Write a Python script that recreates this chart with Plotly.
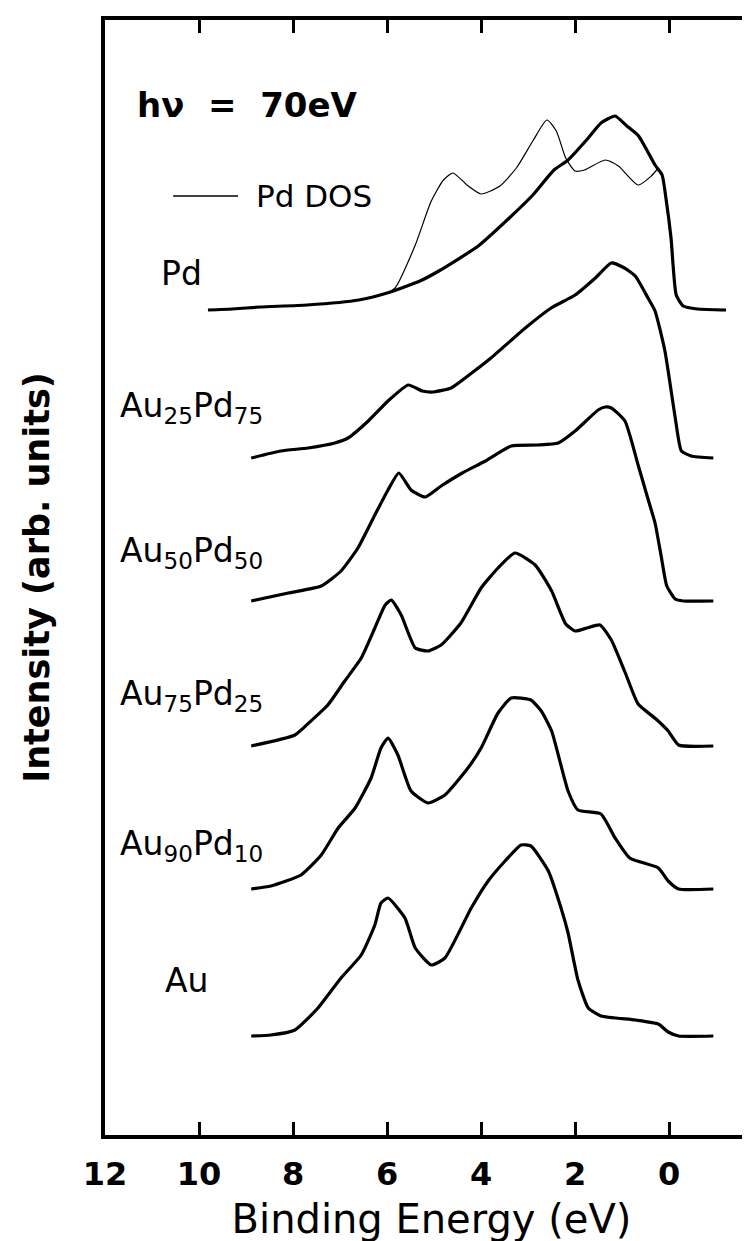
import plotly.graph_objects as go

# ---------------- data (binding energy in eV, intensity in arb. units above each curve's baseline) -------------
pd_energy = [9.81, 9.3, 8.7, 7.7, 6.6, 6.0, 5.3, 4.9, 4.06, 3.4, 2.9, 2.45, 2.15, 1.72, 1.45, 1.15,
             0.9, 0.65, 0.3, 0.15, 0.06, -0.04, -0.15, -0.3, -0.6, -1.21]
pd_intensity = [0.0, 0.01, 0.03, 0.05, 0.10, 0.17, 0.29, 0.39, 0.64, 0.92, 1.15, 1.40, 1.50, 1.72, 1.87, 1.94,
                1.84, 1.74, 1.45, 1.35, 1.09, 0.72, 0.15, 0.04, 0.01, 0.0]

dos_energy = [9.81, 8.7, 7.7, 6.6, 6.0, 5.83, 5.4, 5.06, 4.8, 4.6, 4.3, 4.0, 3.6, 3.25, 2.9, 2.6, 2.4,
              2.2, 2.0, 1.8, 1.36, 1.08, 0.66, 0.38, 0.23]
dos_intensity = [0.0, 0.03, 0.05, 0.10, 0.17, 0.22, 0.65, 1.09, 1.30, 1.37, 1.25, 1.16, 1.24, 1.42, 1.69, 1.90,
                 1.79, 1.52, 1.39, 1.40, 1.50, 1.44, 1.25, 1.34, 1.42]

au25_energy = [8.89, 8.26, 7.68, 7.11, 6.83, 6.40, 5.98, 5.55, 5.25, 5.02, 4.64, 4.2, 3.79, 3.06, 2.51,
               2.0, 1.57, 1.23, 0.95, 0.72, 0.45, 0.30, 0.09, -0.13, -0.26, -0.47, -0.94]
au25_intensity = [0.0, 0.07, 0.10, 0.15, 0.20, 0.37, 0.57, 0.73, 0.67, 0.66, 0.70, 0.85, 1.00, 1.30, 1.50,
                  1.63, 1.80, 1.95, 1.90, 1.82, 1.60, 1.47, 1.07, 0.40, 0.07, 0.02, 0.0]

au50_energy = [8.89, 8.1, 7.4, 6.98, 6.62, 6.26, 5.98, 5.75, 5.49, 5.19, 4.85, 4.4, 3.91, 3.36, 2.8, 2.36,
               2.0, 1.51, 1.36, 1.23, 0.94, 0.66, 0.45, 0.3, 0.17, 0.05, -0.13, -0.3, -0.94]
au50_intensity = [0.0, 0.08, 0.15, 0.30, 0.53, 0.86, 1.11, 1.28, 1.11, 1.04, 1.15, 1.28, 1.40, 1.55, 1.56, 1.58,
                  1.70, 1.91, 1.94, 1.93, 1.80, 1.36, 1.02, 0.78, 0.45, 0.15, 0.02, 0.0, 0.0]

au75_energy = [8.89, 7.96, 7.62, 7.26, 6.9, 6.55, 6.26, 6.04, 5.91, 5.7, 5.4, 5.13, 4.85, 4.43, 4.0, 3.64,
               3.28, 2.85, 2.5, 2.2, 2.0, 1.75, 1.47, 1.23, 0.94, 0.66, 0.28, 0.02, -0.2, -0.94]
au75_intensity = [0.0, 0.11, 0.25, 0.41, 0.65, 0.88, 1.18, 1.41, 1.46, 1.31, 0.98, 0.95, 1.01, 1.23, 1.58, 1.78,
                  1.93, 1.81, 1.55, 1.22, 1.15, 1.18, 1.21, 1.06, 0.74, 0.42, 0.27, 0.15, 0.01, 0.0]

au90_energy = [8.89, 8.47, 7.83, 7.4, 7.04, 6.68, 6.34, 6.13, 5.98, 5.77, 5.49, 5.13, 4.77, 4.28, 4.0, 3.64,
               3.36, 2.94, 2.72, 2.5, 2.15, 1.94, 1.45, 1.15, 0.84, 0.23, 0.02, -0.2, -0.94]
au90_intensity = [0.0, 0.03, 0.14, 0.34, 0.61, 0.81, 1.11, 1.41, 1.51, 1.34, 0.98, 0.86, 0.94, 1.21, 1.41, 1.76,
                  1.91, 1.89, 1.78, 1.58, 0.98, 0.79, 0.75, 0.51, 0.31, 0.21, 0.08, 0.0, 0.0]

au_energy = [8.89, 8.47, 7.96, 7.47, 6.98, 6.55, 6.26, 6.13, 5.98, 5.62, 5.4, 5.06, 4.77, 4.21, 3.85, 3.49,
             3.15, 2.94, 2.57, 2.30, 2.15, 1.94, 1.72, 1.45, 0.72, 0.23, 0.02, -0.2, -0.94]
au_intensity = [0.0, 0.01, 0.06, 0.28, 0.58, 0.81, 1.11, 1.33, 1.38, 1.18, 0.88, 0.71, 0.78, 1.28, 1.55, 1.75,
                1.91, 1.90, 1.65, 1.28, 1.03, 0.56, 0.28, 0.20, 0.16, 0.12, 0.04, 0.0, 0.0]

sample_names = ["Pd", "Au<sub>25</sub>Pd<sub>75</sub>", "Au<sub>50</sub>Pd<sub>50</sub>",
                "Au<sub>75</sub>Pd<sub>25</sub>", "Au<sub>90</sub>Pd<sub>10</sub>", "Au"]
sample_offsets = [8.25, 6.77, 5.34, 3.89, 2.46, 0.99]
x_ticks = [12, 10, 8, 6, 4, 2, 0]

energies = [pd_energy, au25_energy, au50_energy, au75_energy, au90_energy, au_energy]
intensities = [pd_intensity, au25_intensity, au50_intensity, au75_intensity, au90_intensity, au_intensity]

fig = go.Figure()

# Pd DOS (thin line), shares Pd offset
fig.add_trace(go.Scatter(
    x=dos_energy, y=[v + sample_offsets[0] for v in dos_intensity],
    mode="lines", line=dict(color="black", width=1.2, shape="spline", smoothing=0.6),
    name="Pd DOS", showlegend=False))

for name, e, inten, off in zip(sample_names, energies, intensities, sample_offsets):
    fig.add_trace(go.Scatter(
        x=e, y=[v + off for v in inten], mode="lines",
        line=dict(color="black", width=3.2, shape="spline", smoothing=0.5),
        name=name, showlegend=False))

# label positions (layout)
label_x = [10.85, 11.72, 11.72, 11.72, 11.72, 10.76]
label_y = [8.62, 7.28, 5.83, 4.40, 2.90, 1.55]
for name, lx, ly in zip(sample_names, label_x, label_y):
    fig.add_annotation(x=lx, y=ly, text=name, showarrow=False, xanchor="left", yanchor="middle",
                       font=dict(family="DejaVu Sans", size=33, color="black"))

fig.add_annotation(x=11.36, y=10.30, text="h\u03bd  =  70eV", showarrow=False, xanchor="left",
                   yanchor="middle", font=dict(family="DejaVu Sans", size=34, color="black", weight="bold"))
fig.add_annotation(x=8.84, y=9.39, text="Pd DOS", showarrow=False, xanchor="left", yanchor="middle",
                   font=dict(family="DejaVu Sans", size=31, color="black"))
fig.add_shape(type="line", x0=10.55, x1=9.17, y0=9.39, y1=9.39, xref="x", yref="y",
              line=dict(color="black", width=1.3))

fig.update_layout(
    width=750, height=1241,
    margin=dict(l=97, r=0, t=12, b=114),
    paper_bgcolor="white", plot_bgcolor="white",
    font=dict(family="DejaVu Sans", color="black"),
)
fig.update_xaxes(
    range=[12.0, -1.89], tickvals=x_ticks, ticktext=[str(t) for t in x_ticks],
    ticks="inside", ticklen=13, tickwidth=2.5, tickcolor="black",
    showline=True, linewidth=3.5, linecolor="black", mirror="allticks",
    showgrid=False, zeroline=False,
    tickfont=dict(family="DejaVu Sans", size=32, color="black", weight="bold"),
    ticklabelstandoff=8,
    title=dict(text="Binding Energy (eV)", font=dict(family="DejaVu Sans", size=40, color="black"),
               standoff=14),
)
fig.update_yaxes(
    range=[0, 11.15], showticklabels=False, ticks="",
    showline=True, linewidth=3.5, linecolor="black", mirror=False,
    showgrid=False, zeroline=False,
    title=dict(text="Intensity (arb. units)",
               font=dict(family="DejaVu Sans", size=35, color="black", weight="bold"),
               standoff=42),
)

fig.write_html("out.html")
